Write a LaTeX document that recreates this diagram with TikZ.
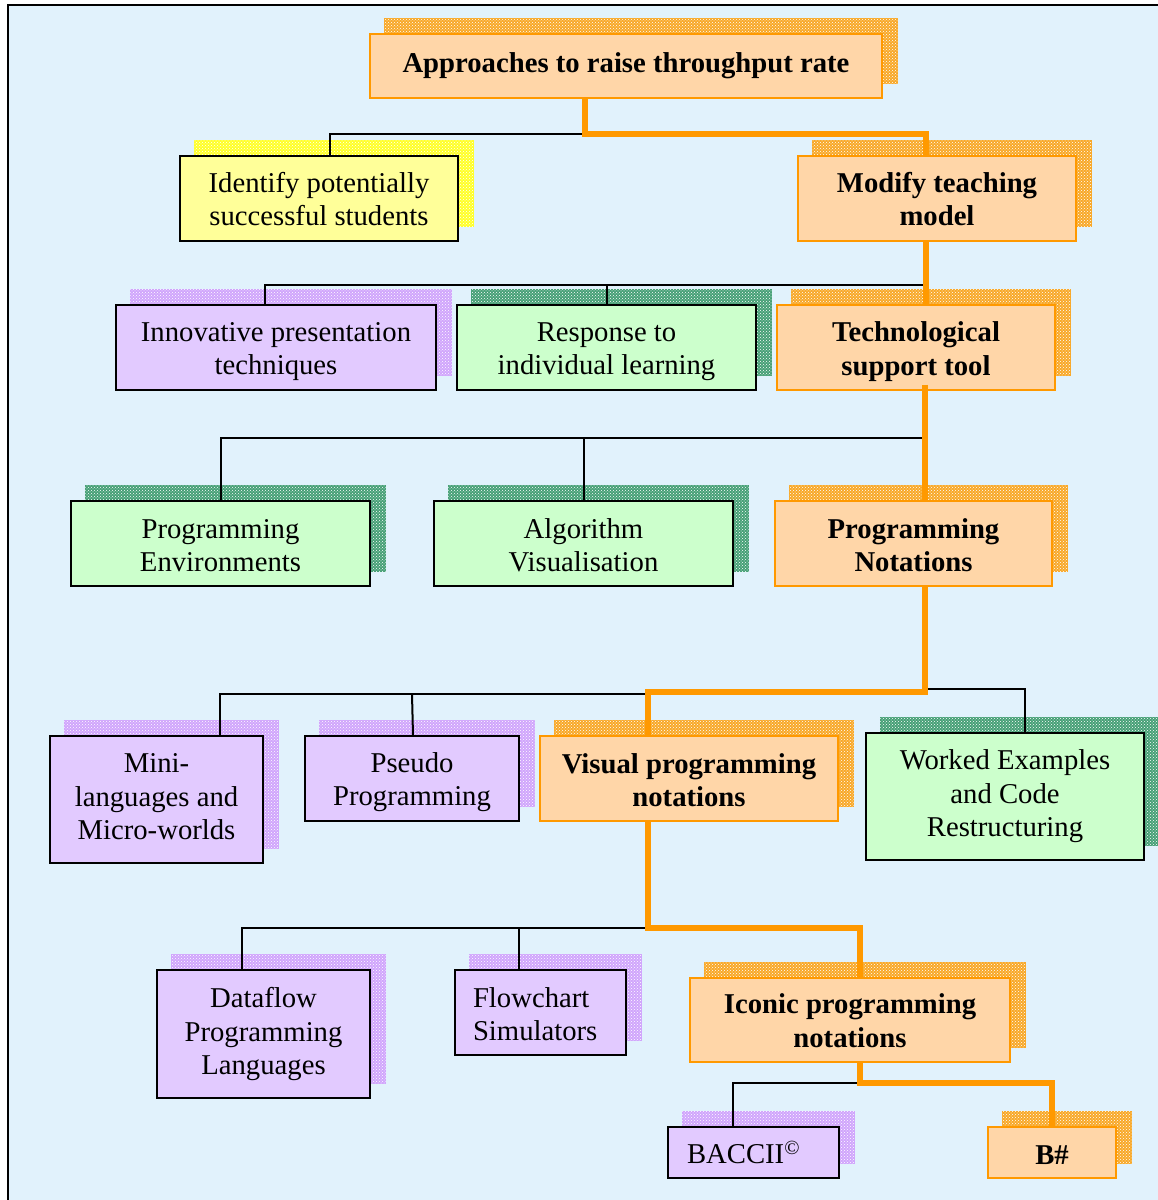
\documentclass[tikz,border=0pt]{standalone}
\usepackage{fontspec}
\setmainfont{Liberation Serif}
\usetikzlibrary{patterns}

\pgfdeclarelayer{bglayer}
\pgfdeclarelayer{shade}
\pgfsetlayers{bglayer,shade,main}

\definecolor{bgblue}{RGB}{225,242,252}
\definecolor{peach}{RGB}{255,214,168}
\definecolor{amber}{RGB}{255,153,0}
\definecolor{ambersh}{RGB}{248,168,40}
\definecolor{lemon}{RGB}{255,255,153}
\definecolor{lemonsh}{RGB}{255,255,40}
\definecolor{lilac}{RGB}{226,202,255}
\definecolor{lilacsh}{RGB}{208,165,252}
\definecolor{mint}{RGB}{204,255,204}
\definecolor{mintsh}{RGB}{70,160,118}

\tikzset{
  box/.style={draw=black, line width=1.4pt, inner sep=0pt, align=center,
    font=\fontsize{28.7}{33.5}\selectfont},
  hot/.style={box, fill=peach, draw=amber,
    font=\fontsize{28.7}{33.5}\selectfont\bfseries},
  yel/.style={box, fill=lemon},
  lav/.style={box, fill=lilac},
  grn/.style={box, fill=mint},
  hotline/.style={draw=amber, line width=6.5pt},
  thinline/.style={draw=black, line width=2pt},
}

% invisible struts that nudge a text block down (top) or up (bottom)
\newcommand\topstrut[1]{\rule{0pt}{#1}}
\newcommand\botstrut[1]{\rule[-#1]{0pt}{0pt}}

% textured drop shade, offset up and to the right
\newcommand\dropshade[2]{%
  \begin{pgfonlayer}{shade}
    \fill[#2] ([shift={(15,-15)}]#1.south west) rectangle ([shift={(15,-15)}]#1.north east);
    \fill[pattern=crosshatch dots, pattern color=white]
      ([shift={(15,-15)}]#1.south west) rectangle ([shift={(15,-15)}]#1.north east);
  \end{pgfonlayer}}

\begin{document}
\begin{tikzpicture}[x=1pt, y=-1pt]
\useasboundingbox (0,0) rectangle (1158,1200);
\clip (0,0) rectangle (1158,1200);

\begin{pgfonlayer}{bglayer}
  \fill[white] (0,0) rectangle (1158,1200);
  \filldraw[fill=bgblue, draw=black, line width=2pt] (8,5) rectangle (1175,1215);
\end{pgfonlayer}

% ---- boxes ----
\node[hot, minimum width=512pt, minimum height=64pt] (top) at (626,66)
  {Approaches to raise throughput rate};

\node[yel, minimum width=278pt, minimum height=85pt] (ident) at (319,198.5)
  {\topstrut{21pt}Identify potentially\\successful students};
\node[hot, minimum width=278pt, minimum height=85pt] (modify) at (937,198.5)
  {\topstrut{21.5pt}Modify teaching\\model};

\node[lav, minimum width=320pt, minimum height=85pt] (innov) at (276,347.5)
  {\topstrut{27pt}Innovative presentation\\techniques};
\node[grn, minimum width=299pt, minimum height=85pt] (resp) at (606.5,347.5)
  {\topstrut{27pt}Response to\\individual learning};
\node[hot, minimum width=278pt, minimum height=85pt] (tech) at (916,347.5)
  {\topstrut{28pt}Technological\\support tool};

\node[grn, minimum width=299pt, minimum height=85pt] (progenv) at (220.5,543.5)
  {\topstrut{23pt}Programming\\Environments};
\node[grn, minimum width=299pt, minimum height=85pt] (algo) at (583.5,543.5)
  {\topstrut{23.6pt}Algorithm\\Visualisation};
\node[hot, minimum width=277pt, minimum height=85pt] (prognot) at (913.5,543.5)
  {\topstrut{23pt}Programming\\Notations};

\node[lav, minimum width=213pt, minimum height=127pt] (mini) at (156.5,799.5)
  {Mini-\\languages and\\Micro-worlds\botstrut{6pt}};
\node[lav, minimum width=214pt, minimum height=85pt] (pseudo) at (412,778.5)
  {\topstrut{27.6pt}Pseudo\\Programming};
\node[hot, minimum width=298pt, minimum height=85pt] (visual) at (689,778.5)
  {\topstrut{23.6pt}Visual programming\\notations};
\node[grn, minimum width=278pt, minimum height=127pt] (worked) at (1005,796.5)
  {Worked Examples\\and Code\\Restructuring};

\node[lav, minimum width=213pt, minimum height=128pt] (dataflow) at (263.5,1034)
  {Dataflow\\Programming\\Languages};
\node[lav, text width=135pt, inner xsep=18pt, align=left, minimum height=85pt] (flow) at (540.5,1012.5)
  {\topstrut{23.6pt}Flowchart\\Simulators};
\node[hot, minimum width=320pt, minimum height=84pt] (iconic) at (850,1020)
  {\topstrut{21.5pt}Iconic programming\\notations};

\node[lav, text width=133pt, inner xsep=19pt, align=left, minimum height=51pt] (baccii) at (753.5,1152.5)
  {BACCII\textsuperscript{\copyright}};
\node[hot, minimum width=128pt, minimum height=51pt] (bsharp) at (1052,1152.5)
  {\topstrut{24.5pt}B\#};

% ---- shades ----
\foreach \n/\c in {top/ambersh, ident/lemonsh, modify/ambersh,
                   innov/lilacsh, resp/mintsh, tech/ambersh,
                   progenv/mintsh, algo/mintsh, prognot/ambersh,
                   mini/lilacsh, pseudo/lilacsh, visual/ambersh, worked/mintsh,
                   dataflow/lilacsh, flow/lilacsh, iconic/ambersh,
                   baccii/lilacsh, bsharp/ambersh}
  {\dropshade{\n}{\c}}

% ---- connectors ----
% level 1
\coordinate (j1) at (585,134);
\draw[thinline] (j1) -| ([xshift=11]ident.north);
\draw[hotline] (top.south -| j1) -- (j1) -| ([xshift=-11]modify.north);

% level 2
\coordinate (j2) at (926,285);
\draw[thinline] (j2) -| ([xshift=-11]innov.north);
\draw[thinline] (j2 -| resp.north) -- (resp.north);
\draw[hotline] ([xshift=-11]modify.south) -- ([xshift=10]tech.north);

% level 3
\coordinate (j3) at (925,438);
\draw[thinline] (j3) -| (progenv.north);
\draw[thinline] (j3 -| algo.north) -- (algo.north);
\draw[hotline] ([shift={(9,-6)}]tech.south) -- ([xshift=11.5]prognot.north);

% level 4
\coordinate (j4) at (925,692);
\coordinate (j4b) at (648,692);
\coordinate (j4c) at (925,689);
\draw[thinline] (j4b |- 0,694) -| ([xshift=63.5]mini.north);
\draw[thinline] (pseudo.north |- 0,694) -- ([xshift=1]pseudo.north);
\draw[thinline] (j4c) -| ([xshift=20]worked.north);
\draw[hotline] ([xshift=11.5]prognot.south) -- (j4) -- (j4b) -- (j4b |- visual.north);

% level 5
\coordinate (j5) at (648,928);
\draw[thinline] (j5) -| ([xshift=-21.5]dataflow.north);
\draw[thinline] ([xshift=-21.5]flow.north |- j5) -- ([xshift=-21.5]flow.north);
\draw[hotline] (j5 |- visual.south) -- (j5) -| ([xshift=10]iconic.north);

% level 6
\coordinate (j6) at (860,1083);
\draw[thinline] (j6) -| ([xshift=-20.5]baccii.north);
\draw[hotline] (j6 |- iconic.south) -- (j6) -| (bsharp.north);
\end{tikzpicture}
\end{document}
